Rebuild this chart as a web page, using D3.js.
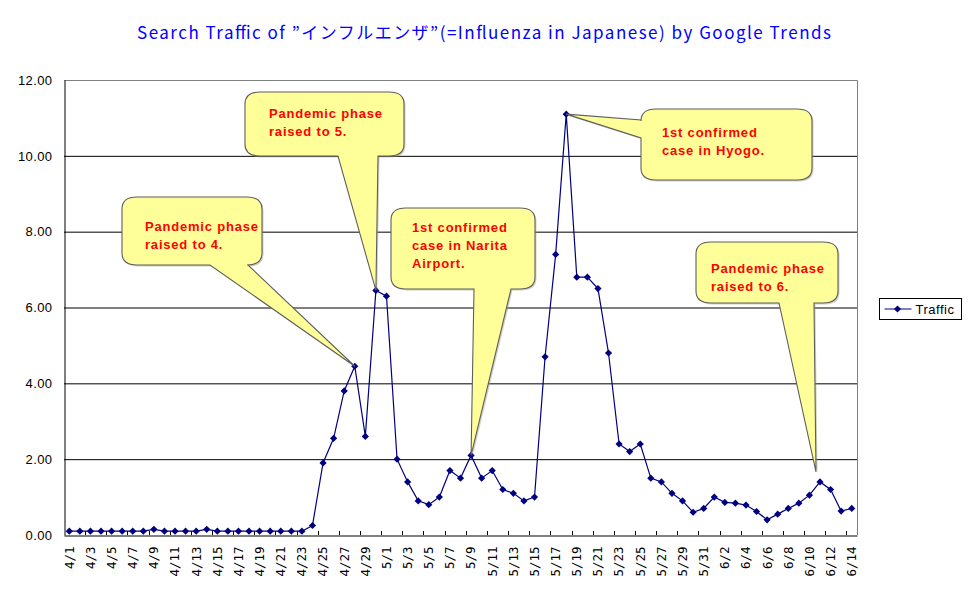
<!DOCTYPE html>
<html>
<head>
<meta charset="utf-8">
<script src="https://cdn.jsdelivr.net/npm/d3@7"></script>
<style>
  body { margin: 0; background: #fff; }
  svg { display: block; }
</style>
</head>
<body>
<svg id="chart" width="970" height="604"></svg>
<script>
// categories: one point per day, 4/1 .. 6/14
var dates = [
  '4/1','4/2','4/3','4/4','4/5','4/6','4/7','4/8','4/9','4/10',
  '4/11','4/12','4/13','4/14','4/15','4/16','4/17','4/18','4/19','4/20',
  '4/21','4/22','4/23','4/24','4/25','4/26','4/27','4/28','4/29','4/30',
  '5/1','5/2','5/3','5/4','5/5','5/6','5/7','5/8','5/9','5/10',
  '5/11','5/12','5/13','5/14','5/15','5/16','5/17','5/18','5/19','5/20',
  '5/21','5/22','5/23','5/24','5/25','5/26','5/27','5/28','5/29','5/30','5/31',
  '6/1','6/2','6/3','6/4','6/5','6/6','6/7','6/8','6/9','6/10',
  '6/11','6/12','6/13','6/14'
];

var traffic = [
  0.1, 0.1, 0.1, 0.1, 0.1, 0.1, 0.1, 0.1, 0.15, 0.1,
  0.1, 0.1, 0.1, 0.15, 0.1, 0.1, 0.1, 0.1, 0.1, 0.1,
  0.1, 0.1, 0.1, 0.25, 1.9, 2.55, 3.8, 4.45, 2.6, 6.45,
  6.3, 2.0, 1.4, 0.9, 0.8, 1.0, 1.7, 1.5, 2.1, 1.5,
  1.7, 1.2, 1.1, 0.9, 1.0, 4.7, 7.4, 11.1, 6.8, 6.8,
  6.5, 4.8, 2.4, 2.2, 2.4, 1.5, 1.4, 1.1, 0.9, 0.6, 0.7,
  1.0, 0.86, 0.84, 0.79, 0.62, 0.4, 0.55, 0.7, 0.84, 1.05,
  1.4, 1.2, 0.63, 0.7
];

var yTicks = [0, 2, 4, 6, 8, 10, 12];

var seriesName = 'Traffic';
var title = 'Search Traffic of \u201dインフルエンザ\u201d(=Influenza in Japanese) by Google Trends';

// what each callout says and which day it points at
var noteDates = ['4/28', '4/30', '5/9', '5/18', '6/11'];
var noteLines = [
  ['Pandemic phase', 'raised to 4.'],
  ['Pandemic phase', 'raised to 5.'],
  ['1st confirmed', 'case in Narita', 'Airport.'],
  ['1st confirmed', 'case in Hyogo.'],
  ['Pandemic phase', 'raised to 6.']
];

// where the callout boxes sit (page layout, not data)
var noteLayout = [
  { box: [122, 197, 262, 265], side: 'bottom', base: [210, 248], text: [145, 231], tip: [0, 0] },
  { box: [245, 92, 404, 156], side: 'bottom', base: [338, 378], text: [269, 118], tip: [0, 0] },
  { box: [391, 208, 535, 289], side: 'bottom', base: [474, 511], text: [412, 232], tip: [0, 0] },
  { box: [641, 109, 812, 180], side: 'left', base: [120, 138], text: [662, 137], tip: [0, 0] },
  { box: [696, 242, 838, 303], side: 'bottom', base: [779, 814], text: [711, 273], tip: [-4, -10] }
];

var margin = { left: 64, right: 113, top: 80, bottom: 69 };
var width = 970, height = 604;

var svg = d3.select('#chart');

var x = d3.scaleBand()
  .domain(dates)
  .range([margin.left, width - margin.right]);

var y = d3.scaleLinear()
  .domain([0, 12])
  .range([height - margin.bottom, margin.top]);

var cx = function (d) { return x(d) + x.bandwidth() / 2; };

// title
svg.append('text')
  .attr('x', 484)
  .attr('y', 39)
  .attr('text-anchor', 'middle')
  .attr('fill', '#0000ff')
  .attr('textLength', 694)
  .attr('lengthAdjust', 'spacing')
  .style('font-family', '"Noto Sans CJK JP", sans-serif')
  .style('font-size', '17px')
  .text(title);

// gridlines
svg.append('g')
  .selectAll('line')
  .data(yTicks.filter(function (t) { return t > 0 && t < 12; }))
  .enter().append('line')
  .attr('x1', margin.left)
  .attr('x2', width - margin.right)
  .attr('y1', function (d) { return y(d) + 0.5; })
  .attr('y2', function (d) { return y(d) + 0.5; })
  .attr('stroke', '#000')
  .attr('stroke-width', 1);

// plot frame: gray top and right
svg.append('path')
  .attr('d', 'M' + margin.left + ',' + (margin.top + 0.5) + 'H' + (width - margin.right + 0.5) + 'V' + y(0))
  .attr('fill', 'none')
  .attr('stroke', '#808080');

// y axis
var yAxis = svg.append('g')
  .attr('transform', 'translate(' + (margin.left + 0.5) + ',0)')
  .call(d3.axisLeft(y).tickValues(yTicks).tickFormat(d3.format('.2f')).tickSize(0).tickPadding(12));
yAxis.select('.domain').attr('stroke', '#000');
yAxis.selectAll('text')
  .attr('fill', '#000')
  .style('font-family', '"Liberation Sans", Arial, sans-serif')
  .style('font-size', '13px')
  .style('letter-spacing', '0.4px');

// x axis
var xAxis = svg.append('g')
  .attr('transform', 'translate(0,' + (y(0) + 0.5) + ')')
  .call(d3.axisBottom(x).tickValues(dates.filter(function (d, i) { return i % 2 === 0; })).tickSize(0));
xAxis.select('.domain').attr('stroke', '#000');
xAxis.selectAll('text')
  .attr('fill', '#000')
  .attr('transform', 'rotate(-90)')
  .attr('text-anchor', 'end')
  .attr('x', -11)
  .attr('y', 0)
  .attr('dy', '0.35em')
  .style('font-family', '"DejaVu Sans Mono", monospace')
  .style('font-size', '12.5px');

// short inward ticks every second day
svg.append('g')
  .selectAll('line')
  .data(dates.filter(function (d, i) { return i % 2 === 0 && i > 0; }))
  .enter().append('line')
  .attr('x1', function (d) { return Math.round(x(d)) + 0.5; })
  .attr('x2', function (d) { return Math.round(x(d)) + 0.5; })
  .attr('y1', y(0) - 4)
  .attr('y2', y(0))
  .attr('stroke', '#000');

// the series
var line = d3.line()
  .x(function (d, i) { return cx(dates[i]); })
  .y(function (d) { return y(d); });

svg.append('path')
  .datum(traffic)
  .attr('d', line)
  .attr('fill', 'none')
  .attr('stroke', '#000080')
  .attr('stroke-width', 1.2);

var diamond = 'M0,-3.6L3.6,0L0,3.6L-3.6,0Z';

svg.append('g')
  .selectAll('path')
  .data(traffic)
  .enter().append('path')
  .attr('d', diamond)
  .attr('transform', function (d, i) { return 'translate(' + cx(dates[i]) + ',' + y(d) + ')'; })
  .attr('fill', '#000080');

// callouts: rounded box with a wedge running out to the point
var calloutPath = function (lay, tip) {
  var x0 = lay.box[0], y0 = lay.box[1], x1 = lay.box[2], y1 = lay.box[3];
  var rx = 15, ry = 12;
  var p = d3.path();
  p.moveTo(x0 + rx, y0);
  p.lineTo(x1 - rx, y0);
  p.quadraticCurveTo(x1, y0, x1, y0 + ry);
  p.lineTo(x1, y1 - ry);
  p.quadraticCurveTo(x1, y1, x1 - rx, y1);
  if (lay.side === 'bottom') {
    p.lineTo(lay.base[1], y1);
    p.lineTo(tip[0], tip[1]);
    p.lineTo(lay.base[0], y1);
  }
  p.lineTo(x0 + rx, y1);
  p.quadraticCurveTo(x0, y1, x0, y1 - ry);
  if (lay.side === 'left') {
    p.lineTo(x0, lay.base[1]);
    p.lineTo(tip[0], tip[1]);
    p.lineTo(x0, lay.base[0]);
  }
  p.lineTo(x0, y0 + ry);
  p.quadraticCurveTo(x0, y0, x0 + rx, y0);
  p.closePath();
  return p.toString();
};

var notes = svg.append('g');

noteDates.forEach(function (d, k) {
  var lay = noteLayout[k];
  var i = dates.indexOf(d);
  var tip = [cx(d) + lay.tip[0], y(traffic[i]) + lay.tip[1]];

  var g = notes.append('g');

  g.append('path')
    .attr('d', calloutPath(lay, tip))
    .attr('transform', 'translate(1.5,1.5)')
    .attr('fill', '#9a9a7a')
    .attr('opacity', 0.45);

  g.append('path')
    .attr('d', calloutPath(lay, tip))
    .attr('fill', '#ffff99')
    .attr('stroke', '#5f5f5f')
    .attr('stroke-width', 1.1);

  g.append('g')
    .selectAll('text')
    .data(noteLines[k])
    .enter().append('text')
    .attr('x', lay.text[0])
    .attr('y', function (t, j) { return lay.text[1] + j * 18; })
    .attr('fill', '#ff0000')
    .style('font-family', '"Liberation Sans", Arial, sans-serif')
    .style('font-weight', 'bold')
    .style('font-size', '13px')
    .style('letter-spacing', '0.8px')
    .text(function (t) { return t; });
});

// legend
var legend = svg.append('g').attr('transform', 'translate(879.5,298.5)');
legend.append('rect')
  .attr('width', 82)
  .attr('height', 21)
  .attr('fill', '#fff')
  .attr('stroke', '#000');
legend.append('line')
  .attr('x1', 5).attr('x2', 32)
  .attr('y1', 10.5).attr('y2', 10.5)
  .attr('stroke', '#000080');
legend.append('path')
  .attr('d', diamond)
  .attr('transform', 'translate(18,10.5)')
  .attr('fill', '#000080');
legend.append('text')
  .attr('x', 36)
  .attr('y', 15.5)
  .attr('fill', '#000')
  .style('font-family', '"Liberation Sans", Arial, sans-serif')
  .style('font-size', '13px')
  .style('letter-spacing', '0.5px')
  .text(seriesName);
</script>
</body>
</html>
